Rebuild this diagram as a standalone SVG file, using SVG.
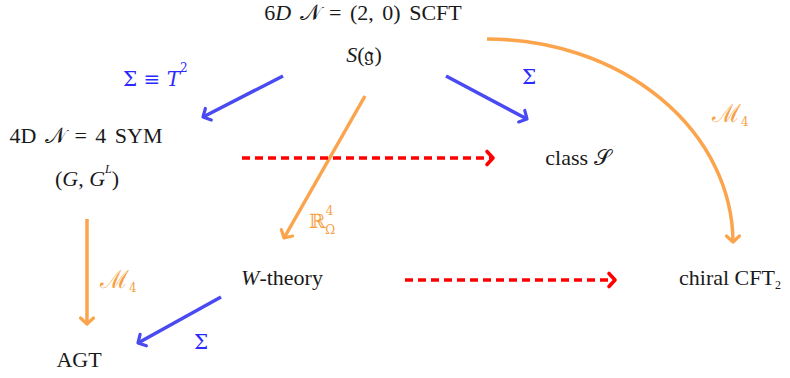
<svg xmlns="http://www.w3.org/2000/svg" width="790" height="378" viewBox="0 0 790 378">
<style>
text{font-family:"Liberation Serif","DejaVu Serif",serif;font-size:22px;fill:#1a1a1a}
.m{font-family:"DejaVu Serif","Liberation Serif",serif;font-size:20px}
.i{font-style:italic}
.ws{word-spacing:3px}
.blue{fill:#2a2aff}
.or{fill:#f7a145}
.sup{font-size:12px}
.big{font-size:25px}
.c{text-anchor:middle}
.bl{stroke:#4a4af2;stroke-width:3.5;fill:none}
.og{stroke:#fba44c;stroke-width:3.5;fill:none}
.rd{stroke:#ff0000;stroke-width:3.5;fill:none;stroke-dasharray:8 5}
</style>
<defs>
<marker id="ab" markerUnits="userSpaceOnUse" viewBox="-10 -10 20 20" markerWidth="20" markerHeight="20" orient="auto"><path d="M-6,-6.5 L0,0 L-6,6.5" fill="none" stroke="#4a4af2" stroke-width="3.2" stroke-linecap="round" stroke-linejoin="round"/></marker>
<marker id="ao" markerUnits="userSpaceOnUse" viewBox="-10 -10 20 20" markerWidth="20" markerHeight="20" orient="auto"><path d="M-6,-6.5 L0,0 L-6,6.5" fill="none" stroke="#fba44c" stroke-width="3.2" stroke-linecap="round" stroke-linejoin="round"/></marker>
<marker id="ar" markerUnits="userSpaceOnUse" viewBox="-10 -10 20 20" markerWidth="20" markerHeight="20" orient="auto"><path d="M-6,-6.5 L0,0 L-6,6.5" fill="none" stroke="#ff0000" stroke-width="3.6" stroke-linecap="round" stroke-linejoin="round"/></marker>
</defs>
<g id="connectors">
<path class="bl" d="M283,76 L203,117" marker-end="url(#ab)"/>
<path class="bl" d="M446,76 L527,119" marker-end="url(#ab)"/>
<path class="og" d="M365,96 L284,238" marker-end="url(#ao)"/>
<path class="og" d="M487,39 A246,204 0 0 1 733,242" marker-end="url(#ao)"/>
<path class="rd" d="M242,158 L493,158" marker-end="url(#ar)"/>
<path class="rd" d="M405,280 L615,280" marker-end="url(#ar)"/>
<path class="og" d="M87,219 L87,324" marker-end="url(#ao)"/>
<path class="bl" d="M221,297 L138,343" marker-end="url(#ab)"/>
</g>
<g id="edge-labels">
<text class="blue m" x="123" y="86"><tspan>Σ ≡ </tspan><tspan class="i">T</tspan><tspan class="sup" dy="-14">2</tspan></text>
<text class="blue m c" x="529" y="84">Σ</text>
<text class="or m" x="712" y="122"><tspan class="big">ℳ</tspan><tspan class="sup" dy="4">4</tspan></text>
<text class="or m" x="309" y="228"><tspan>ℝ</tspan><tspan class="sup" dy="-13">4</tspan><tspan class="sup" dx="-8" dy="19">Ω</tspan></text>
<text class="or m" x="100" y="288"><tspan class="big">ℳ</tspan><tspan class="sup" dy="4">4</tspan></text>
<text class="blue m c" x="201" y="349">Σ</text>
</g>
<g id="node-6d">
<text class="c ws" x="363" y="20"><tspan>6</tspan><tspan class="i">D</tspan><tspan> 𝒩 = (2, 0) SCFT</tspan></text>
<text class="c" x="364" y="62"><tspan class="i">S</tspan><tspan>(𝔤)</tspan></text>
</g>
<g id="node-4d">
<text class="c ws" x="86" y="143">4D 𝒩 = 4 SYM</text>
<text class="c" x="87" y="186"><tspan>(</tspan><tspan class="i">G</tspan><tspan>, </tspan><tspan class="i">G</tspan><tspan class="sup i" dy="-13">L</tspan><tspan dy="13">)</tspan></text>
</g>
<g id="node-class-s">
<text class="c" x="578" y="165">class 𝒮</text>
</g>
<g id="node-w">
<text class="c" x="282" y="285"><tspan class="i">W</tspan><tspan>-theory</tspan></text>
</g>
<g id="node-cft">
<text class="c" x="730" y="285"><tspan>chiral CFT</tspan><tspan class="sup" dy="4">2</tspan></text>
</g>
<g id="node-agt">
<text class="c" x="79" y="367">AGT</text>
</g>
</svg>
